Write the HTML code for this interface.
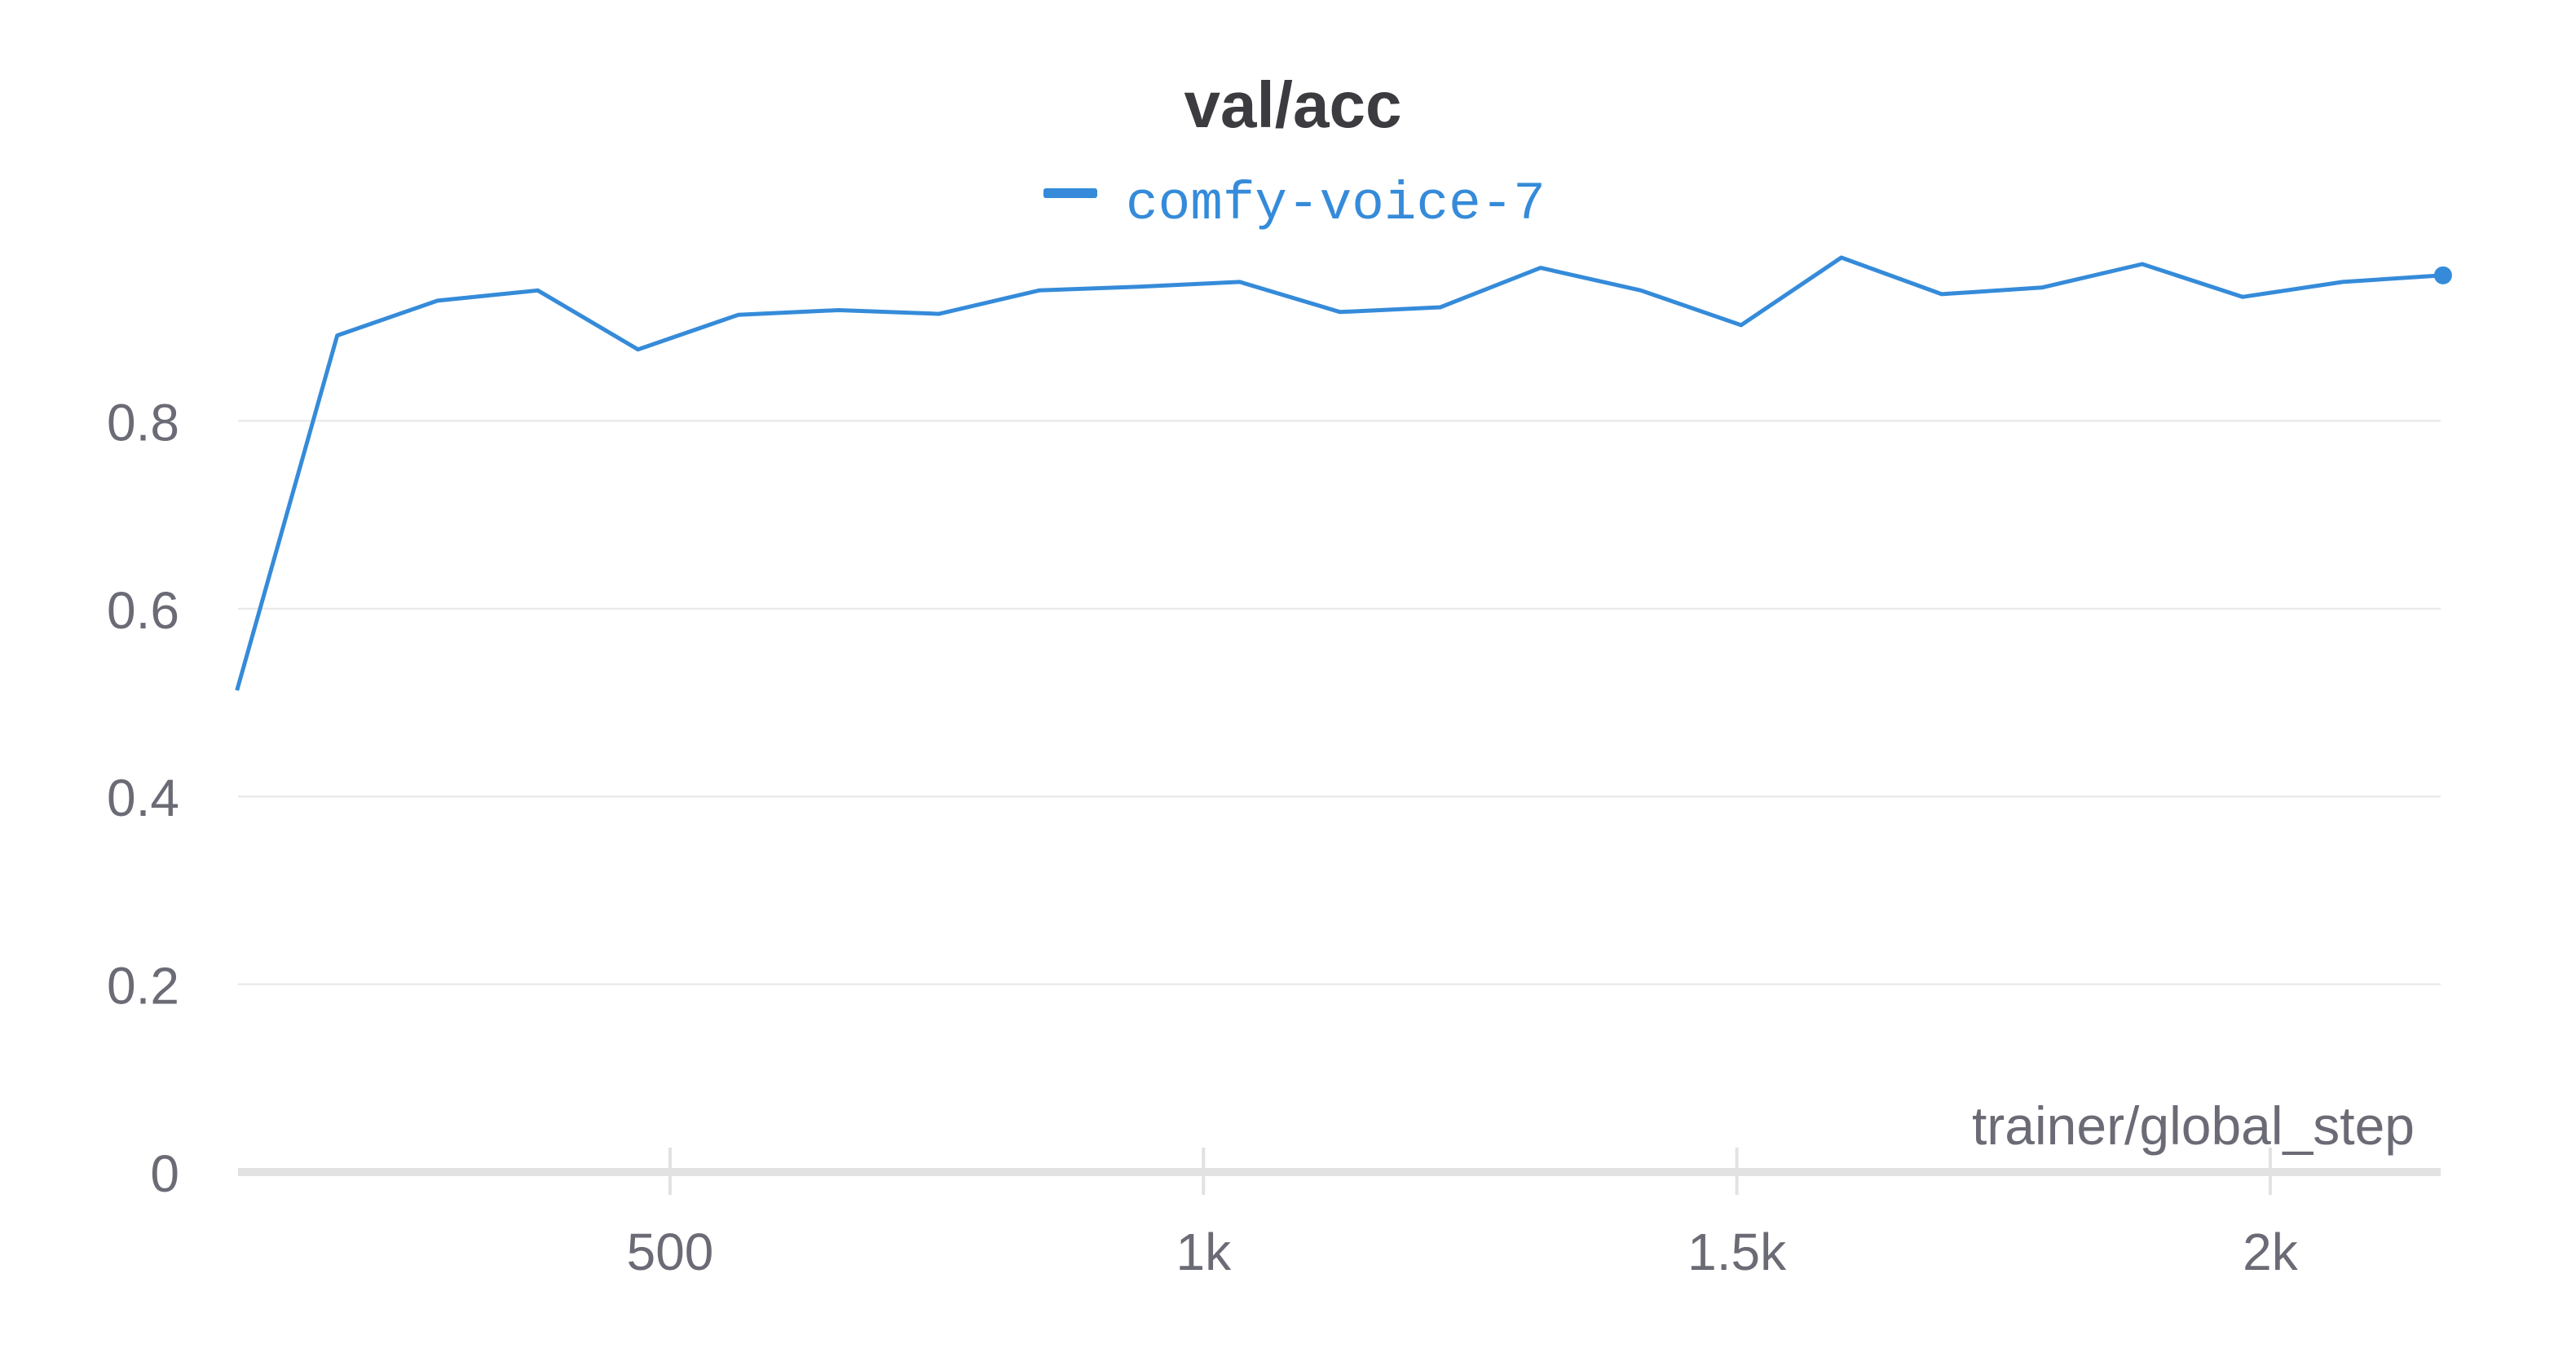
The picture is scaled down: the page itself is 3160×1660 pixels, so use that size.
<!DOCTYPE html>
<html><head><meta charset="utf-8"><style>
html,body{margin:0;padding:0;background:#fff;}
svg{display:block;}
</style></head><body>
<svg id="chart" width="3160" height="1660" viewBox="0 0 3160 1660" xmlns="http://www.w3.org/2000/svg">
<text x="1586" y="156" text-anchor="middle" font-family="Liberation Sans, sans-serif" font-weight="bold" font-size="80" fill="#3b3b40">val/acc</text>
<g>
<rect x="1280" y="231" width="66" height="12" rx="3" fill="#358bd9"/>
<text x="1381" y="268" font-family="Liberation Mono, monospace" font-size="66" fill="#358bd9">comfy-voice-7</text>
</g>
<g id="grid"></g><g id="axes"></g><g id="series"></g>
</svg>
<script>
const steps = [94,188,282,376,470,564,658,752,846,940,1034,1128,1222,1316,1410,1504,1598,1692,1786,1880,1974,2068,2162];
const accValues = [0.513,0.891,0.928,0.939,0.876,0.913,0.918,0.914,0.939,0.943,0.948,0.916,0.921,0.963,0.939,0.902,0.974,0.935,0.942,0.967,0.932,0.948,0.955];
const yTicks = [0,0.2,0.4,0.6,0.8];
const yTickLabels = ["0","0.2","0.4","0.6","0.8"];
const xTicks = [500,1000,1500,2000];
const xTickLabels = ["500","1k","1.5k","2k"];

const NS="http://www.w3.org/2000/svg";
const L=292,R=2994,Y0=1438,PY=1152;
const xS=v=>822+(v-500)*654.3/500;
const yS=v=>Y0-v*PY;
function mk(tag,attrs,parent){const e=document.createElementNS(NS,tag);for(const k in attrs)e.setAttribute(k,attrs[k]);parent.appendChild(e);return e;}
const grid=document.getElementById('grid'),axes=document.getElementById('axes'),series=document.getElementById('series');
yTicks.forEach((t,i)=>{
  if(t>0){const g=mk('line',{x1:L,x2:R,y1:yS(t),y2:yS(t),stroke:'#e6e6e6','stroke-width':2},grid);
  
  }
  const tx=mk('text',{x:220,y:yS(t)+24,'text-anchor':'end','font-family':'Liberation Sans, sans-serif','font-size':64,fill:'#6b6b76'},axes);
  tx.textContent=yTickLabels[i];
  
  
});
const ax=mk('line',{x1:L,x2:R,y1:Y0,y2:Y0,stroke:'#e2e2e2','stroke-width':10},axes);


xTicks.forEach((t,i)=>{
  const tk=mk('line',{x1:xS(t),x2:xS(t),y1:1408,y2:1466,stroke:'#e2e2e2','stroke-width':4},axes);
  
  
  const tx=mk('text',{x:xS(t),y:1558,'text-anchor':'middle','font-family':'Liberation Sans, sans-serif','font-size':64,fill:'#6b6b76'},axes);
  tx.textContent=xTickLabels[i];
  
  
});
const xt=mk('text',{x:2962,y:1404,'text-anchor':'end','font-family':'Liberation Sans, sans-serif','font-size':66,fill:'#6b6b76'},axes);
xt.textContent='trainer/global_step';


const pts=steps.map((s,i)=>xS(s).toFixed(1)+','+yS(accValues[i]).toFixed(1)).join(' ');
const pl=mk('polyline',{points:pts,fill:'none',stroke:'#358bd9','stroke-width':5,'stroke-linejoin':'round'},series);


const n=steps.length-1;
const dot=mk('circle',{cx:xS(steps[n]),cy:yS(accValues[n]),r:11,fill:'#358bd9'},series);


</script>
</body></html>
